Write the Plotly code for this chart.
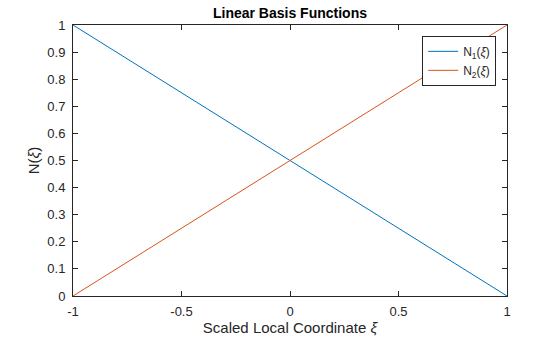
import plotly.graph_objects as go

xi = [-1.0, 1.0]
n1 = [1.0, 0.0]
n2 = [0.0, 1.0]
x_ticks = [-1, -0.5, 0, 0.5, 1]
x_ticklabels = ["-1", "-0.5", "0", "0.5", "1"]
y_ticks = [0, 0.1, 0.2, 0.3, 0.4, 0.5, 0.6, 0.7, 0.8, 0.9, 1]
y_ticklabels = ["0", "0.1", "0.2", "0.3", "0.4", "0.5", "0.6", "0.7", "0.8", "0.9", "1"]

FONT = "Liberation Sans, Arial, sans-serif"
AX = "#262626"

fig = go.Figure()
fig.add_trace(go.Scatter(x=xi, y=n1, mode="lines", name="N<sub>1</sub>(<i>ξ</i>)",
                         line=dict(color="#0072BD", width=1)))
fig.add_trace(go.Scatter(x=xi, y=n2, mode="lines", name="N<sub>2</sub>(<i>ξ</i>)",
                         line=dict(color="#D95319", width=1)))

axis_common = dict(showline=True, linecolor=AX, linewidth=1, mirror="ticks",
                   ticks="inside", ticklen=5, tickcolor=AX, tickwidth=1,
                   showgrid=False, zeroline=False, automargin=False,
                   tickfont=dict(family=FONT, size=13, color=AX))

fig.update_layout(
    width=560, height=337,
    margin=dict(l=73, r=53, t=25, b=41),
    paper_bgcolor="white", plot_bgcolor="white",
    title=dict(text="<b>Linear Basis Functions</b>", x=0.5, xanchor="center",
               xref="paper", y=1 - 13.5 / 337, yref="container", yanchor="middle",
               font=dict(family=FONT, size=14, color="black")),
    xaxis=dict(range=[-1, 1], tickvals=x_ticks, ticktext=x_ticklabels,
               ticklabelstandoff=3,
               title=dict(text="Scaled Local Coordinate <i>ξ</i>", standoff=0,
                          font=dict(family=FONT, size=15, color=AX)),
               **axis_common),
    yaxis=dict(range=[0, 1], tickvals=y_ticks, ticktext=y_ticklabels,
               ticklabelstandoff=4,
               title=dict(text="N(<i>ξ</i>)", standoff=4,
                          font=dict(family=FONT, size=15, color=AX)),
               **axis_common),
    legend=dict(x=0.975, y=0.96, xanchor="right", yanchor="top",
                bgcolor="white", bordercolor=AX, borderwidth=1,
                font=dict(family=FONT, size=12, color=AX),
                tracegroupgap=0, itemwidth=30),
    showlegend=True,
)

fig.write_html("out.html")
